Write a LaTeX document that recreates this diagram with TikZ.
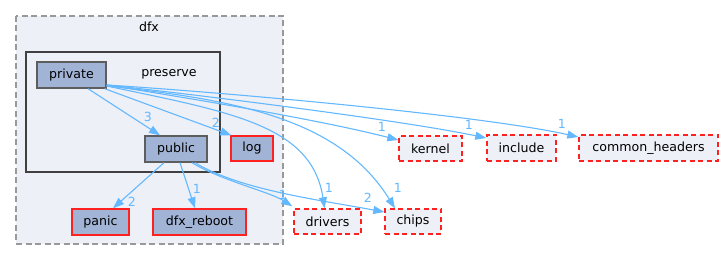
\documentclass[tikz,border=0pt]{standalone}
\usepackage{fontspec}
\setmainfont{DejaVu Sans}
\usetikzlibrary{arrows.meta,calc}
\definecolor{edgec}{HTML}{63B8FF}
\definecolor{dirfill}{HTML}{A2B4D6}
\definecolor{clfill}{HTML}{EDF0F7}
\definecolor{dkgray}{HTML}{404040}
\definecolor{redc}{HTML}{FF2020}
\tikzset{
  every node/.style={font=\fontsize{12.6}{14}\selectfont, inner sep=0pt},
  dirnode/.style={draw=dkgray!85, fill=dirfill, line width=1.4pt},
  reddir/.style={draw=redc, fill=dirfill, line width=1.4pt},
  extdir/.style={draw=redc, fill=clfill, dash pattern=on 5pt off 3.5pt, line width=1.4pt},
  dep/.style={draw=edgec, line width=1.1pt, -{Triangle[length=11pt,width=8pt]}},
  lab/.style={text=edgec},
}
\begin{document}
\begin{tikzpicture}[x=1pt,y=-1pt]
\useasboundingbox (0,0) rectangle (724,261);
% clusters
\draw[draw=gray!80, fill=clfill, dash pattern=on 6pt off 3.5pt, line width=1.4pt] (16,16) rectangle (283,244);
\node (dfxl) at (149,27) {dfx};
\draw[draw=dkgray, fill=clfill, line width=2.6pt] (26,52) rectangle (220,172);
\node (presl) at (169,74) {preserve};
% nodes
\node[dirnode, minimum width=69pt, minimum height=26pt] (private) at (71.5,75) {private};
\node[dirnode, minimum width=62pt, minimum height=26pt] (public) at (176,149) {public};
\node[reddir, minimum width=42pt, minimum height=25pt] (log) at (252,148.5) {log};
\node[reddir, minimum width=57pt, minimum height=26pt] (panic) at (100.5,222) {panic};
\node[reddir, minimum width=93pt, minimum height=26pt] (reboot) at (199.5,222) {dfx\_reboot};
\node[extdir, minimum width=67pt, minimum height=25pt] (drivers) at (327.5,221.5) {drivers};
\node[extdir, minimum width=56pt, minimum height=25pt] (chips) at (413,221.5) {chips};
\node[extdir, minimum width=63pt, minimum height=25pt] (kernel) at (430.5,148.5) {kernel};
\node[extdir, minimum width=69pt, minimum height=26pt] (include) at (521.5,148) {include};
\node[extdir, minimum width=139pt, minimum height=26pt] (common) at (648.5,148) {common\_headers};
% edges from private
\draw[dep] ($(private.south)+(16.5,0)$) -- ($(public.north)+(-16,0)$);
\node[lab] (l1) at (148,117) {3};
\draw[dep] ($(private.south east)+(-2,0)$) -- ($(log.north west)+(1,0)$);
\node[lab] (l2) at (216,123) {2};
\draw[dep] ($(private.east)+(0,10)$) .. controls (200,100) and (320,120) .. ($(kernel.west)+(0,-8.5)$);
\node[lab] (l3) at (382,127) {1};
\draw[dep] ($(private.east)+(0,10)$) .. controls (200,95) and (400,120) .. ($(include.west)+(0,-10)$);
\node[lab] (l4) at (469,125) {1};
\draw[dep] ($(private.east)+(0,10)$) .. controls (220,92) and (480,115) .. ($(common.west)+(0,-11)$);
\node[lab] (l5) at (562,124) {1};
\draw[dep] ($(private.east)+(0,11)$) .. controls (230,112) and (312,125) .. ($(drivers.north)+(-3,0)$);
\node[lab] (l6) at (329,188) {1};
\draw[dep] ($(private.east)+(0,11)$) .. controls (240,100) and (340,120) .. ($(chips.north)+(-18,0)$);
\node[lab] (l7) at (398,188) {1};
% edges from public
\draw[dep] ($(public.south)+(-12,0)$) -- ($(panic.north)+(12.5,0)$);
\node[lab] (l8) at (132,202) {2};
\draw[dep] ($(public.south)+(4,0)$) -- ($(reboot.north)+(-4.5,0)$);
\node[lab] (l9) at (197,189) {1};
\draw[dep] ($(public.south)+(16,0)$) .. controls (220,180) and (270,192) .. ($(drivers.north west)+(-1,-2)$);
\node[lab] (l10) at (283,195) {1};
\draw[dep] ($(public.south)+(19,0)$) .. controls (240,190) and (320,200) .. ($(chips.west)+(0,-9.5)$);
\node[lab] (l11) at (368,198) {2};
\end{tikzpicture}
\end{document}
